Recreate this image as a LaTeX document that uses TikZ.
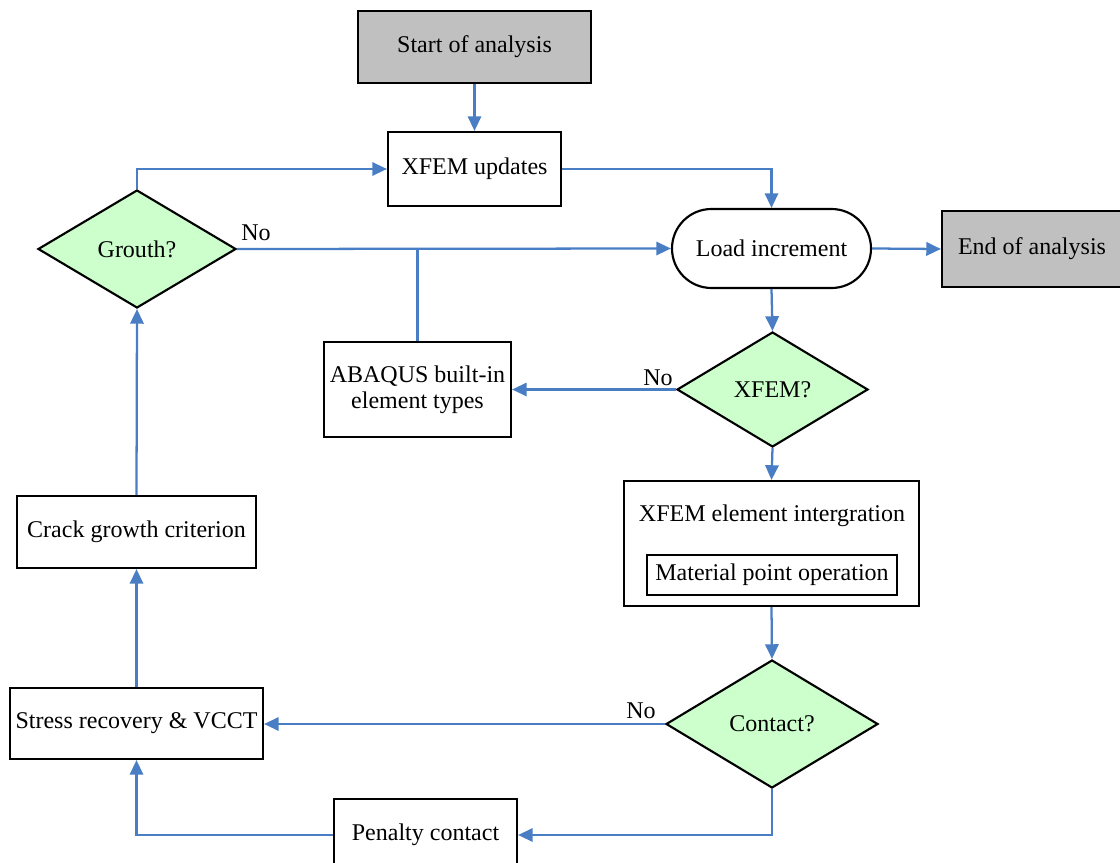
\documentclass[tikz,border=0pt]{standalone}
\usepackage{fontspec}
\setmainfont{Liberation Serif}
\usetikzlibrary{shapes.geometric,shapes.misc,arrows.meta}
\definecolor{lineblue}{HTML}{4A7EC4}
\definecolor{dgreen}{HTML}{CCFFCC}
\definecolor{tgray}{HTML}{C0C0C0}
\begin{document}
\begin{tikzpicture}[x=0.75pt,y=-0.75pt,
  every node/.style={font=\rmfamily\fontsize{18}{19.5}\selectfont},
  box/.style={draw=black,line width=1.6pt,rectangle,inner sep=0pt,align=center},
  termbox/.style={box,fill=tgray},
  decision/.style={draw=black,line width=1.6pt,diamond,fill=dgreen,inner sep=0pt,aspect=1.6},
  pill/.style={draw=black,line width=1.6pt,rounded rectangle,inner sep=0pt},
  conn/.style={draw=lineblue,line width=1.7pt,-{Triangle[length=11pt,width=10pt]}},
  plain/.style={draw=lineblue,line width=1.7pt},
  lbl/.style={inner sep=0pt}]
\useasboundingbox (0,0) rectangle (1120,863);
\node[termbox,minimum width=174.75pt,minimum height=54pt] (start) at (474.5,47) {Start of analysis};
\node[box,minimum width=129.75pt,minimum height=55.5pt] (upd) at (474.5,169) {XFEM updates};
\node[decision,minimum width=148.5pt,minimum height=88.5pt] (gr) at (137,249) {Grouth?};
\node[pill,minimum width=149.25pt,minimum height=59.25pt] (load) at (771.5,248.5) {Load increment};
\node[termbox,minimum width=135pt,minimum height=57pt] (end) at (1032,249) {End of analysis};
\node[box,minimum width=140.25pt,minimum height=71.25pt] (ab) at (417.5,389.5) {ABAQUS built-in\\element types};
\node[decision,minimum width=143.25pt,minimum height=86.25pt] (xq) at (772.5,389.5) {XFEM?};
\node[box,minimum width=221.25pt,minimum height=93.75pt] (elem) at (771.5,543.5) {};
\node[lbl] (elemt) at (772,516) {XFEM element intergration};
\node[box,minimum width=187.5pt,minimum height=30pt] (mat) at (772,575) {Material point operation};
\node[decision,minimum width=159pt,minimum height=96pt] (cq) at (772,724) {Contact?};
\node[box,minimum width=189.75pt,minimum height=53.25pt] (sr) at (136.5,723.5) {Stress recovery \& VCCT};
\node[box,minimum width=179.25pt,minimum height=54pt] (cg) at (136.5,532) {Crack growth criterion};
\node[box,minimum width=137.25pt,minimum height=54pt] (pen) at (425.5,835) {Penalty contact};
\node[lbl] (no1) at (256,233) {No};
\node[lbl] (no2) at (658,378) {No};
\node[lbl] (no3) at (641,711) {No};
\draw[conn] (start) -- (upd);
\draw[conn] (gr.north) -- (gr.north |- upd.west) -- (upd.west);
\draw[conn] (upd.east) -- (upd.east -| load.north) -- (load.north);
\draw[conn] (gr.east) -- (load.west);
\draw[plain] (ab.north) -- (ab.north |- gr.east);
\draw[conn] (load.east) -- (end.west);
\draw[conn] (load.south) -- (xq.north);
\draw[conn] (xq.west) -- (ab.east |- xq.west);
\draw[conn] (xq.south) -- (elem.north);
\draw[conn] (elem.south) -- (cq.north);
\draw[conn] (cq.west) -- (sr.east |- cq.west);
\draw[conn] (cq.south) -- (cq.south |- pen.east) -- (pen.east);
\draw[conn] (pen.west) -- (pen.west -| sr.south) -- (sr.south);
\draw[conn] (sr.north) -- (cg.south);
\draw[conn] (cg.north) -- (gr.south);
\end{tikzpicture}
\end{document}
